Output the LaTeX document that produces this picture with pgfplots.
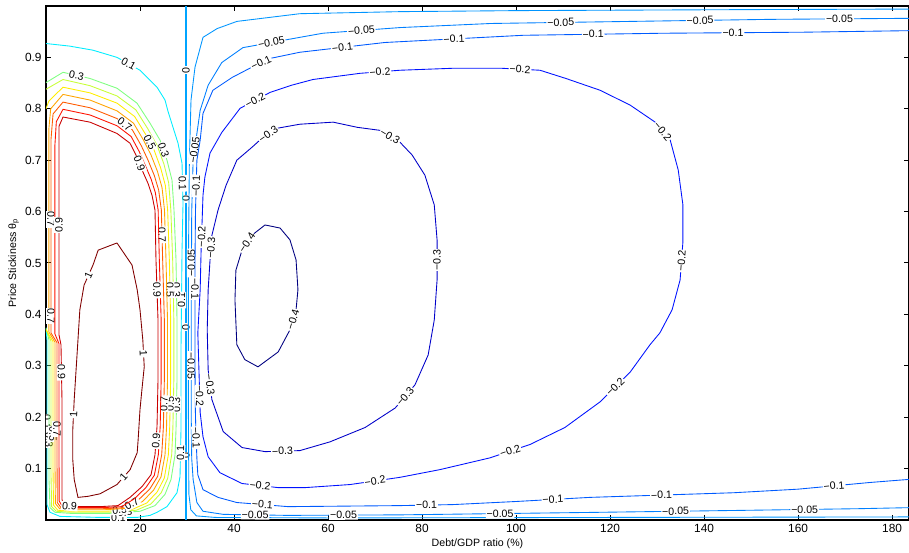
\documentclass[border=0pt]{standalone}
\usepackage{fontspec}
\setmainfont{Liberation Sans}
\usepackage{pgfplots}
\pgfplotsset{compat=1.18}
\pgfplotsset{lab/.style={contour/label node code/.code={\node[sloped, inner sep=0.7pt, font=\fontsize{8.5}{9}\selectfont, fill=white, text=black] {#1};}},
  nolab/.style={contour/labels=false}}
\begin{document}
\begin{tikzpicture}
\begin{axis}[
  scale only axis,
  width=690.4pt, height=411.2pt,
  xmin=0, xmax=183.6, ymin=0, ymax=1,
  xtick={20,40,60,80,100,120,140,160,180},
  ytick={0.1,0.2,0.3,0.4,0.5,0.6,0.7,0.8,0.9},
  yticklabels={0.1,0.2,0.3,0.4,0.5,0.6,0.7,0.8,0.9},
  /pgf/number format/assume math mode=true,
  tick align=inside,
  major tick length=4pt,
  tick style={black, line width=0.8pt},
  axis line style={line width=1.2pt},
  ticklabel style={font=\fontsize{9.5}{11}\selectfont},
  xlabel={Debt/GDP ratio (\%)},
  ylabel={Price Stickiness θ\textsubscript{p}},
  label style={font=\fontsize{8.5}{10}\selectfont},
  xlabel style={yshift=2pt},
  ylabel style={yshift=-2pt},
  colormap/jet,
  point meta min=-0.4, point meta max=1,
  every axis plot/.append style={line width=0.7pt},
  contour/label distance=108pt,
]
% level 0
\addplot[contour prepared, lab={0}, point meta=\thisrow{z}, line width=1.1pt] table {
x y z
29.8 0.0 0
29.8 0.25 0
29.8 0.5 0
29.8 0.75 0
29.8 1.0 0
};
% level -0.02 (unlabelled)
\addplot[contour prepared, nolab, point meta=\thisrow{z}] table {
x y z
183.6 0.994 -0.02
150 0.993 -0.02
100 0.991 -0.02
75.3 0.989 -0.02
54.0 0.985 -0.02
40.6 0.970 -0.02
36.4 0.956 -0.02
33.4 0.939 -0.02
31.7 0.881 -0.02
30.85 0.817 -0.02
30.5 0.70 -0.02
30.3 0.5 -0.02
30.3 0.2 -0.02
30.4 0.05 -0.02
30.8 0.02 -0.02
32 0.008 -0.02
36 0.005 -0.02
60 0.004 -0.02
120 0.005 -0.02
183.6 0.006 -0.02
};
% level -0.05
\addplot[contour prepared, lab={−0.05}, point meta=\thisrow{z}] table {
x y z
183.6 0.976 -0.05
154 0.974 -0.05
124.3 0.970 -0.05
94.7 0.966 -0.05
75.3 0.958 -0.05
58.9 0.947 -0.05
54.0 0.939 -0.05
41.9 0.919 -0.05
37.4 0.890 -0.05
34.5 0.846 -0.05
32.8 0.797 -0.05
31.9 0.739 -0.05
31.3 0.700 -0.05
31.0 0.60 -0.05
30.9 0.40 -0.05
30.9 0.20 -0.05
31.0 0.12 -0.05
31.3 0.079 -0.05
32.1 0.034 -0.05
33.4 0.017 -0.05
37.7 0.011 -0.05
51.3 0.009 -0.05
75.3 0.010 -0.05
117.9 0.015 -0.05
150 0.019 -0.05
172.8 0.022 -0.05
183.6 0.024 -0.05
};
% level -0.1
\addplot[contour prepared, lab={−0.1}, point meta=\thisrow{z}] table {
x y z
183.6 0.952 -0.1
161 0.949 -0.1
131.3 0.947 -0.1
101.5 0.943 -0.1
72.1 0.929 -0.1
54 0.910 -0.1
47.7 0.898 -0.1
43.8 0.881 -0.1
39.6 0.861 -0.1
35.5 0.836 -0.1
33.4 0.791 -0.1
32.8 0.739 -0.1
32.1 0.700 -0.1
31.8 0.60 -0.1
31.7 0.50 -0.1
31.7 0.40 -0.1
31.7 0.30 -0.1
31.8 0.20 -0.1
32.1 0.12 -0.1
32.3 0.088 -0.1
33.4 0.059 -0.1
36.6 0.044 -0.1
40.6 0.034 -0.1
51.5 0.026 -0.1
75.3 0.028 -0.1
86.6 0.030 -0.1
100 0.036 -0.1
115.7 0.044 -0.1
146.2 0.053 -0.1
160 0.060 -0.1
175.3 0.073 -0.1
183.6 0.079 -0.1
};
% level -0.2
\addplot[contour prepared, lab={−0.2}, point meta=\thisrow{z}] table {
x y z
33.8 0.667 -0.2
34.9 0.714 -0.2
37.4 0.754 -0.2
41.3 0.801 -0.2
47.7 0.832 -0.2
52.3 0.846 -0.2
56.8 0.857 -0.2
66.8 0.869 -0.2
75.3 0.875 -0.2
87.0 0.879 -0.2
96.6 0.879 -0.2
105.1 0.875 -0.2
110.6 0.859 -0.2
117.9 0.836 -0.2
124.3 0.807 -0.2
129.6 0.774 -0.2
132.8 0.739 -0.2
134.5 0.681 -0.2
135.5 0.613 -0.2
135.5 0.541 -0.2
134.9 0.467 -0.2
133.2 0.409 -0.2
130.6 0.364 -0.2
128.5 0.341 -0.2
124.3 0.288 -0.2
117.9 0.230 -0.2
110.4 0.180 -0.2
103.0 0.147 -0.2
94.5 0.121 -0.2
83.8 0.098 -0.2
75.3 0.083 -0.2
64.7 0.069 -0.2
55.1 0.063 -0.2
49.4 0.063 -0.2
41.7 0.071 -0.2
37.0 0.092 -0.2
34.5 0.123 -0.2
33.4 0.162 -0.2
32.8 0.209 -0.2
32.6 0.273 -0.2
32.3 0.364 -0.2
32.8 0.448 -0.2
33.0 0.525 -0.2
33.2 0.578 -0.2
33.4 0.632 -0.2
33.8 0.667 -0.2
};
% level -0.3
\addplot[contour prepared, lab={−0.3}, point meta=\thisrow{z}] table {
x y z
43.8 0.725 -0.3
40.6 0.700 -0.3
38.3 0.651 -0.3
36.6 0.603 -0.3
35.3 0.554 -0.3
34.9 0.506 -0.3
34.5 0.448 -0.3
34.3 0.370 -0.3
34.5 0.292 -0.3
35.3 0.234 -0.3
37.7 0.172 -0.3
41.7 0.141 -0.3
46.6 0.133 -0.3
54.0 0.135 -0.3
60.4 0.152 -0.3
67.9 0.180 -0.3
74.3 0.218 -0.3
78.5 0.263 -0.3
81.3 0.321 -0.3
82.6 0.389 -0.3
83.2 0.467 -0.3
83.2 0.545 -0.3
82.6 0.613 -0.3
80.6 0.671 -0.3
77.9 0.710 -0.3
75.3 0.735 -0.3
71.1 0.758 -0.3
66.2 0.764 -0.3
61.1 0.774 -0.3
54.0 0.770 -0.3
49.1 0.762 -0.3
45.5 0.739 -0.3
43.8 0.725 -0.3
};
% level -0.4
\addplot[contour prepared, lab={−0.4}, point meta=\thisrow{z}] table {
x y z
40.6 0.341 -0.4
40.2 0.428 -0.4
40.4 0.486 -0.4
41.7 0.525 -0.4
43.8 0.554 -0.4
46.6 0.574 -0.4
49.8 0.568 -0.4
51.9 0.545 -0.4
53.2 0.506 -0.4
53.6 0.448 -0.4
53.2 0.409 -0.4
51.9 0.370 -0.4
49.4 0.327 -0.4
45.1 0.298 -0.4
42.3 0.312 -0.4
40.6 0.341 -0.4
};
% level 0.1
\addplot[contour prepared, lab={0.1}, point meta=\thisrow{z}] table {
x y z
0 0.374 0.1
0.21 0.35 0.1
0.21 0.03 0.1
0.85 0.015 0.1
2.98 0.007 0.1
11.49 0.005 0.1
19.36 0.005 0.1
22.13 0.009 0.1
23.62 0.015 0.1
25.74 0.026 0.1
27.87 0.053 0.1
28.51 0.084 0.1
28.72 0.176 0.1
28.72 0.331 0.1
28.94 0.525 0.1
29.15 0.616 0.1
28.94 0.694 0.1
28.09 0.733 0.1
27.02 0.764 0.1
25.96 0.795 0.1
25.32 0.817 0.1
23.62 0.842 0.1
20.0 0.875 0.1
15.11 0.900 0.1
10.0 0.914 0.1
5.0 0.922 0.1
0 0.927 0.1
};
% level 0.3
\addplot[contour prepared, lab={0.3}, point meta=\thisrow{z}] table {
x y z
0 0.374 0.3
0.64 0.350 0.3
0.64 0.234 0.3
0.64 0.079 0.3
0.85 0.024 0.3
1.91 0.015 0.3
5.11 0.013 0.3
13.62 0.013 0.3
20.00 0.017 0.3
23.19 0.028 0.3
25.32 0.050 0.3
26.60 0.079 0.3
27.45 0.127 0.3
27.66 0.176 0.3
27.87 0.273 0.3
27.87 0.389 0.3
27.66 0.506 0.3
27.23 0.603 0.3
26.81 0.661 0.3
25.74 0.700 0.3
24.26 0.739 0.3
22.13 0.772 0.3
19.36 0.811 0.3
15.11 0.840 0.3
9.36 0.859 0.3
3.62 0.871 0.3
0 0.851 0.3
};
% level 0.4
\addplot[contour prepared, nolab, point meta=\thisrow{z}] table {
x y z
0 0.372 0.4
1.06 0.348 0.4
1.06 0.234 0.4
1.06 0.09 0.4
1.2 0.026 0.4
2.2 0.017 0.4
5.29 0.015 0.4
13.27 0.015 0.4
19.22 0.019 0.4
22.30 0.031 0.4
24.51 0.053 0.4
25.89 0.081 0.4
26.74 0.127 0.4
26.99 0.177 0.4
27.20 0.273 0.4
27.20 0.389 0.4
26.95 0.506 0.4
26.56 0.603 0.4
26.10 0.656 0.4
25.07 0.693 0.4
23.62 0.729 0.4
21.67 0.761 0.4
19.11 0.798 0.4
15.11 0.825 0.4
9.36 0.845 0.4
3.62 0.857 0.4
0 0.838 0.4
};
% level 0.5
\addplot[contour prepared, lab={0.5}, point meta=\thisrow{z}] table {
x y z
0 0.370 0.5
1.49 0.347 0.5
1.49 0.234 0.5
1.49 0.10 0.5
1.6 0.029 0.5
2.5 0.019 0.5
5.46 0.017 0.5
12.91 0.017 0.5
18.44 0.021 0.5
21.42 0.033 0.5
23.69 0.055 0.5
25.18 0.082 0.5
26.03 0.127 0.5
26.31 0.178 0.5
26.52 0.273 0.5
26.52 0.389 0.5
26.24 0.506 0.5
25.88 0.603 0.5
25.39 0.651 0.5
24.39 0.685 0.5
22.98 0.720 0.5
21.21 0.750 0.5
18.86 0.785 0.5
15.11 0.811 0.5
9.36 0.831 0.5
3.62 0.842 0.5
0.6 0.815 0.5
0 0.80 0.5
};
% level 0.6
\addplot[contour prepared, nolab, point meta=\thisrow{z}] table {
x y z
0.6 0.366 0.6
1.91 0.346 0.6
1.91 0.234 0.6
1.91 0.11 0.6
2.0 0.032 0.6
2.9 0.022 0.6
5.64 0.020 0.6
12.56 0.020 0.6
17.66 0.023 0.6
20.53 0.036 0.6
22.88 0.058 0.6
24.47 0.084 0.6
25.32 0.127 0.6
25.64 0.179 0.6
25.85 0.273 0.6
25.85 0.389 0.6
25.53 0.506 0.6
25.21 0.603 0.6
24.68 0.647 0.6
23.72 0.678 0.6
22.35 0.710 0.6
20.75 0.739 0.6
18.62 0.772 0.6
15.11 0.796 0.6
9.36 0.817 0.6
3.62 0.828 0.6
1.0 0.80 0.6
0.6 0.76 0.6
0.6 0.43 0.6
0.6 0.366 0.6
};
% level 0.7
\addplot[contour prepared, lab={0.7}, point meta=\thisrow{z}] table {
x y z
1.06 0.364 0.7
2.34 0.345 0.7
2.34 0.234 0.7
2.34 0.12 0.7
2.4 0.034 0.7
3.2 0.024 0.7
5.82 0.022 0.7
12.2 0.022 0.7
16.88 0.024 0.7
19.64 0.039 0.7
22.06 0.060 0.7
23.76 0.085 0.7
24.61 0.127 0.7
24.97 0.180 0.7
25.18 0.273 0.7
25.18 0.389 0.7
24.82 0.506 0.7
24.54 0.603 0.7
23.97 0.642 0.7
23.05 0.670 0.7
21.71 0.700 0.7
20.28 0.728 0.7
18.37 0.759 0.7
15.11 0.781 0.7
9.36 0.802 0.7
3.62 0.813 0.7
1.5 0.79 0.7
1.06 0.74 0.7
1.06 0.43 0.7
1.06 0.364 0.7
};
% level 0.8
\addplot[contour prepared, nolab, point meta=\thisrow{z}] table {
x y z
1.9 0.362 0.8
2.77 0.343 0.8
2.77 0.234 0.8
2.77 0.13 0.8
2.8 0.037 0.8
3.5 0.026 0.8
6.0 0.024 0.8
11.85 0.024 0.8
16.10 0.026 0.8
18.76 0.041 0.8
21.25 0.063 0.8
23.05 0.087 0.8
23.90 0.127 0.8
24.29 0.181 0.8
24.50 0.273 0.8
24.50 0.389 0.8
24.11 0.506 0.8
23.86 0.603 0.8
23.26 0.637 0.8
22.37 0.663 0.8
21.07 0.691 0.8
19.82 0.717 0.8
18.12 0.746 0.8
15.11 0.767 0.8
9.36 0.788 0.8
3.62 0.799 0.8
2.2 0.775 0.8
1.9 0.73 0.8
1.9 0.43 0.8
1.9 0.362 0.8
};
% level 0.9
\addplot[contour prepared, lab={0.9}, point meta=\thisrow{z}] table {
x y z
2.77 0.766 0.9
3.62 0.784 0.9
9.36 0.774 0.9
15.11 0.752 0.9
17.87 0.733 0.9
19.36 0.706 0.9
20.43 0.681 0.9
21.70 0.655 0.9
22.55 0.632 0.9
23.19 0.603 0.9
23.40 0.506 0.9
23.83 0.389 0.9
23.83 0.273 0.9
23.62 0.182 0.9
23.19 0.127 0.9
22.34 0.088 0.9
20.43 0.065 0.9
17.87 0.044 0.9
15.32 0.028 0.9
11.49 0.026 0.9
6.17 0.026 0.9
3.83 0.028 0.9
3.40 0.040 0.9
3.40 0.137 0.9
3.40 0.234 0.9
3.19 0.341 0.9
2.77 0.360 0.9
2.77 0.428 0.9
2.77 0.719 0.9
2.77 0.766 0.9
};
% level 1
\addplot[contour prepared, lab={1}, point meta=\thisrow{z}] table {
x y z
15.1 0.539 1
18.3 0.496 1
19.4 0.448 1
20.0 0.409 1
20.6 0.350 1
20.9 0.298 1
20.4 0.253 1
20.0 0.215 1
19.6 0.156 1
19.4 0.131 1
17.9 0.098 1
15.1 0.069 1
11.5 0.051 1
8.9 0.046 1
6.8 0.044 1
6.0 0.079 1
5.7 0.117 1
5.7 0.176 1
6.0 0.234 1
6.4 0.292 1
6.8 0.350 1
7.2 0.409 1
8.1 0.457 1
10.0 0.496 1
11.1 0.525 1
15.1 0.539 1
};
\end{axis}
\pgfresetboundingbox
\useasboundingbox ([xshift=-36.8pt,yshift=-25.6pt]current axis.south west) rectangle ([yshift=4.8pt]current axis.north east);
\end{tikzpicture}
\end{document}
